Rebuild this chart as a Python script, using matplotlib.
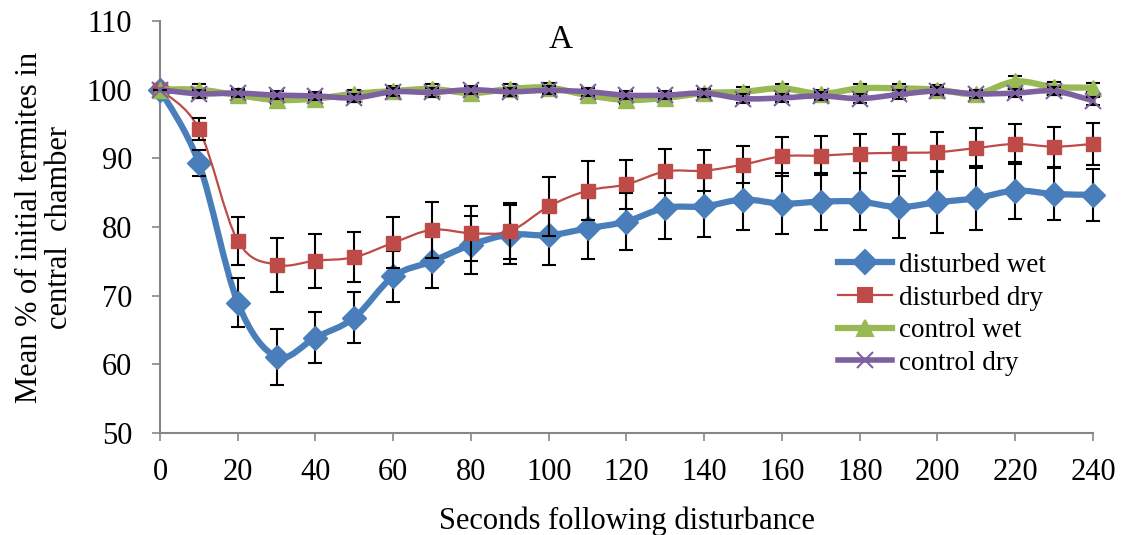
import numpy as np
import matplotlib
matplotlib.use("Agg")
import matplotlib.pyplot as plt
from matplotlib.path import Path
from matplotlib.patches import PathPatch
from matplotlib.lines import Line2D

seconds = list(range(0, 250, 10))

disturbed_wet = [100, 89.3, 69.0, 61.1, 63.9, 66.8, 72.8, 75.0, 77.4, 78.9, 78.8,
                 79.8, 80.8, 82.8, 83.0, 84.0, 83.4, 83.7, 83.7, 82.9, 83.6,
                 84.2, 85.3, 84.8, 84.7]
disturbed_wet_err = [0, 1.9, 3.6, 4.1, 3.75, 3.75, 3.75, 3.9, 4.2, 4.3, 4.3,
                     4.4, 4.2, 4.6, 4.4, 4.5, 4.4, 4.2, 4.2, 4.5, 4.5,
                     4.7, 4.1, 3.8, 3.8]

disturbed_dry = [100, 94.3, 78.0, 74.5, 75.1, 75.6, 77.7, 79.6, 79.1, 79.4, 83.0,
                 85.3, 86.2, 88.1, 88.2, 89.1, 90.3, 90.4, 90.7, 90.8, 90.9,
                 91.5, 92.1, 91.7, 92.1]
disturbed_dry_err = [0, 1.6, 3.5, 3.9, 3.95, 3.6, 3.7, 4.1, 4.0, 4.1, 4.3,
                     4.3, 3.6, 3.2, 3.0, 2.7, 2.8, 2.8, 2.8, 2.7, 2.9,
                     2.9, 2.9, 2.9, 3.0]

control_wet = [100, 100.0, 99.2, 98.5, 98.7, 99.4, 99.8, 100.1, 99.5, 100.1, 100.3,
               99.2, 98.5, 98.8, 99.5, 99.7, 100.2, 99.4, 100.2, 100.2, 100.0,
               99.4, 101.2, 100.4, 100.3]
control_wet_err = [0, 0.8, 0.6, 0.6, 0.6, 0.6, 0.7, 0.7, 0.6, 0.7, 0.7,
                   0.6, 0.6, 0.6, 0.6, 0.7, 0.7, 0.6, 0.7, 0.7, 0.7,
                   0.6, 0.8, 0.7, 0.7]

control_dry = [100, 99.4, 99.5, 99.2, 99.1, 98.8, 99.7, 99.6, 100.0, 99.7, 99.9,
               99.7, 99.2, 99.2, 99.5, 98.7, 98.8, 99.1, 98.7, 99.3, 99.8,
               99.4, 99.5, 99.8, 98.4]
control_dry_err = [0, 0.6, 0.6, 0.6, 0.6, 0.6, 0.6, 0.6, 0.6, 0.6, 0.6,
                   0.6, 0.6, 0.6, 0.6, 0.6, 0.6, 0.6, 0.6, 0.6, 0.6,
                   0.6, 0.6, 0.6, 0.6]

series_labels = ["disturbed wet", "disturbed dry", "control wet", "control dry"]
x_ticks = list(range(0, 250, 20))
y_ticks = list(range(50, 120, 10))

plt.rcParams["font.family"] = ["Liberation Serif", "DejaVu Serif"]

fig = plt.figure(figsize=(11.25, 5.35), dpi=100)
ax = fig.add_axes([0.1422, 0.1907, 0.8293, 0.7700])


def smooth_path(ax, xs, ys):
    """Bezier path through the points in display space (spreadsheet-style smoothing)."""
    pts = ax.transData.transform(np.column_stack([xs, ys]))
    n = len(pts)
    verts = [pts[0]]
    codes = [Path.MOVETO]
    for i in range(n - 1):
        p0 = pts[i - 1] if i > 0 else pts[i]
        p1 = pts[i]
        p2 = pts[i + 1]
        p3 = pts[i + 2] if i + 2 < n else pts[i + 1]
        c1 = p1 + (p2 - p0) / 6.0
        c2 = p2 - (p3 - p1) / 6.0
        verts += [c1, c2, p2]
        codes += [Path.CURVE4] * 3
    return Path(verts, codes)


styles = [
    (disturbed_wet, disturbed_wet_err, "#4A7EBB", 4.5, "D", 12),
    (disturbed_dry, disturbed_dry_err, "#BE4B48", 1.6, "s", 10),
    (control_wet, control_wet_err, "#98B954", 4.5, "^", 12),
    (control_dry, control_dry_err, "#7D60A0", 4.0, "x", 12),
]

ax.set_xlim(0, 240)
ax.set_ylim(50, 110)

handles = []
for k, (vals, errs, col, lw, mk, ms) in enumerate(styles):
    base = 2 + k * 3
    ax.errorbar(seconds, vals, yerr=errs, fmt="none", ecolor="black",
                elinewidth=1.5, capsize=5, capthick=1.5, zorder=base + 1,
                clip_on=False)
    path = smooth_path(ax, seconds, vals)
    patch = PathPatch(path, transform=None, facecolor="none", edgecolor=col,
                      lw=lw, zorder=base, capstyle="round", joinstyle="round")
    patch.set_clip_on(False)
    ax.add_patch(patch)
    if mk == "x":
        ax.plot(seconds, vals, linestyle="none", marker=mk, markersize=ms,
                markeredgecolor=col, markeredgewidth=1.5, zorder=base + 2,
                clip_on=False)
    else:
        ax.plot(seconds, vals, linestyle="none", marker=mk, markersize=ms,
                markerfacecolor=col, markeredgecolor=col, zorder=base + 2,
                clip_on=False)
    handles.append(Line2D([], [], color=col, lw=lw, marker=mk, markersize=ms,
                          markerfacecolor=col, markeredgecolor=col,
                          markeredgewidth=1.5))

ax.set_xticks(x_ticks)
ax.set_yticks(y_ticks)
ax.tick_params(axis="both", labelsize=22, direction="out", length=6,
               width=1.2, color="#868686")
ax.tick_params(axis="x", pad=12)
ax.tick_params(axis="y", pad=14)
for side in ("top", "right"):
    ax.spines[side].set_visible(False)
for side in ("left", "bottom"):
    ax.spines[side].set_color("#868686")
    ax.spines[side].set_linewidth(1.5)

ax.set_xlabel("Seconds following disturbance", fontsize=22, labelpad=14)
ax.set_ylabel("Mean % of initial termites in\ncentral  chamber", fontsize=22,
              labelpad=9, linespacing=1.05)
ax.text(0.43, 0.955, "A", transform=ax.transAxes, fontsize=24,
        ha="center", va="center")

leg = ax.legend(handles, series_labels, loc="upper left",
                bbox_to_anchor=(0.727, 0.437), frameon=False, fontsize=19.5,
                handlelength=2.0, handletextpad=0.25, labelspacing=0.28,
                borderaxespad=0, borderpad=0)

fig.savefig("out.png", dpi=100)
